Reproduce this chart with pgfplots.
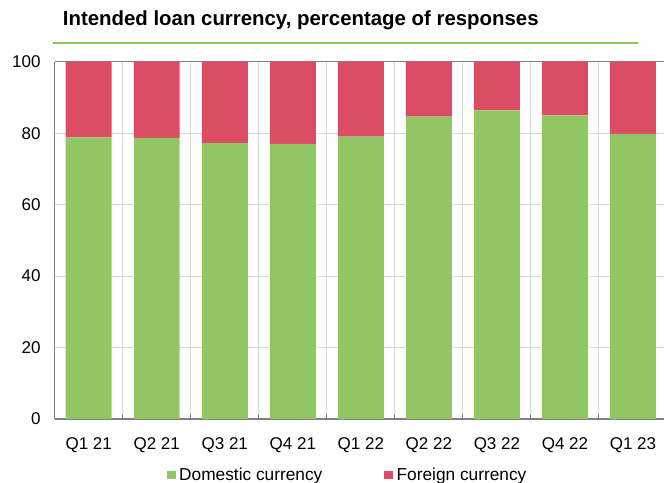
\documentclass[border=0pt]{standalone}
\usepackage{pgfplots}
\pgfplotsset{compat=1.18}
\usepackage{fontspec}
\setmainfont{Liberation Sans}
\definecolor{dom}{RGB}{146,198,101}
\definecolor{forn}{RGB}{219,76,101}
\definecolor{rule}{RGB}{141,199,83}
\definecolor{gridc}{RGB}{217,217,217}
\definecolor{axc}{RGB}{128,128,128}
\begin{document}
\begin{tikzpicture}
\begin{axis}[
  at={(54.7bp,64bp)}, anchor=south west,
  scale only axis, width=612.3bp, height=357.3bp,
  ybar stacked, bar width=0.676,
  xmin=-0.5, xmax=8.5, ymin=0, ymax=100,
  xtick={0,...,8},
  xticklabels={Q1 21,Q2 21,Q3 21,Q4 21,Q1 22,Q2 22,Q3 22,Q4 22,Q1 23},
  minor xtick={-0.5,0.5,...,8.5},
  ytick={0,20,...,100},
  axis x line*=bottom, axis y line*=left,
  axis line style={draw=axc, line width=1.3bp, -},
  tick align=inside,
  major tick length=0pt, minor tick length=5bp,
  minor tick style={draw=axc, line width=1bp},
  xminorgrids, ymajorgrids,
  grid style={draw=gridc, line width=1bp},
  minor grid style={draw=gridc, line width=1bp},
  /pgf/number format/assume math mode=true,
  ticklabel style={font=\fontsize{17bp}{20bp}\selectfont, text=black},
  xticklabel style={anchor=north, inner sep=0pt, yshift=-18.5bp},
  yticklabel style={anchor=east, inner sep=0pt, xshift=-14bp},
  legend columns=2,
  legend style={at={(0.4769,-0.1567)}, anchor=center, draw=none, fill=none,
    inner sep=0pt, outer sep=0pt,
    font=\fontsize{17.3bp}{20bp}\selectfont,
    nodes={inner sep=0pt},
    /tikz/every odd column/.append style={column sep=3.5bp},
    /tikz/every even column/.append style={column sep=62bp}},
  legend image code/.code={\fill[#1] (0bp,-4.3bp) rectangle (8.7bp,4.4bp);},
  clip=false,
]
\addplot+[fill=dom, draw=none] coordinates {(0,78.8) (1,78.7) (2,77.2) (3,77.0) (4,79.0) (5,84.6) (6,86.4) (7,85.0) (8,79.8)};
\addlegendentry{Domestic currency}
\addplot+[fill=forn, draw=none] coordinates {(0,21.2) (1,21.3) (2,22.8) (3,23.0) (4,21.0) (5,15.4) (6,13.6) (7,15.0) (8,20.2)};
\addlegendentry{Foreign currency}
\draw[axc, line width=1.3bp] (rel axis cs:0,1) -- (rel axis cs:1,1);
\end{axis}
\node[anchor=base west, inner sep=0pt, font=\fontsize{20.4bp}{24bp}\selectfont\bfseries] at (62.7bp,457bp) {Intended loan currency, percentage of responses};
\draw[rule, line width=2bp] (53.3bp,440.3bp) -- (638bp,440.3bp);
\pgfresetboundingbox
\useasboundingbox (0,0) rectangle (664bp,483bp);
\end{tikzpicture}
\end{document}
